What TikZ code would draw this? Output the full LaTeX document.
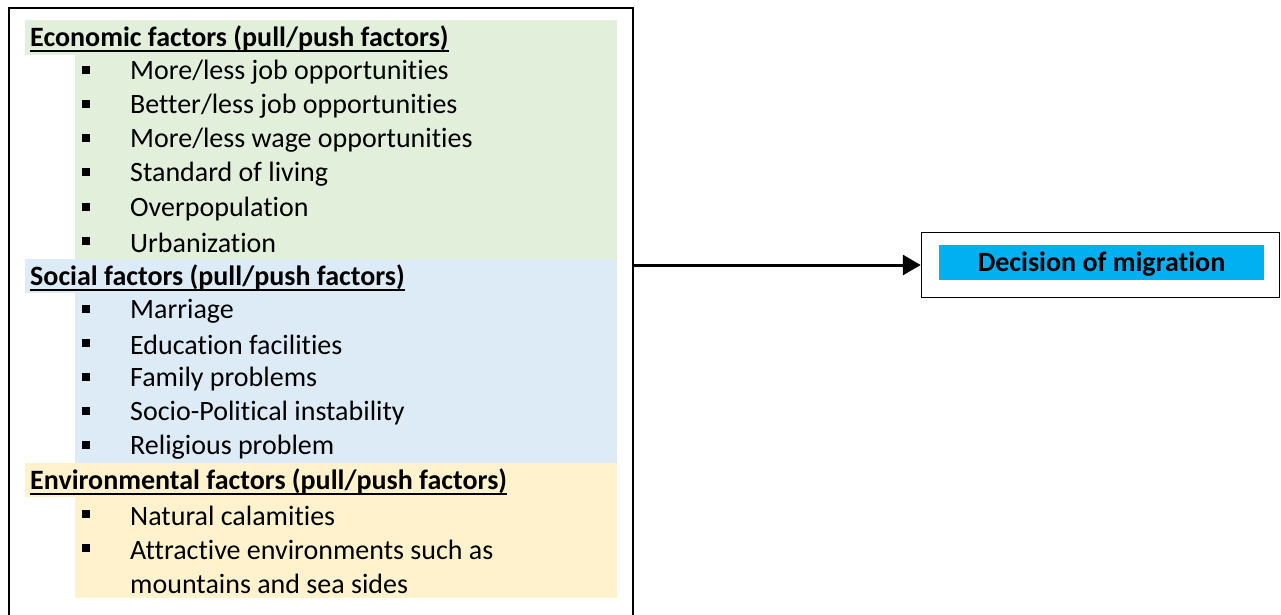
\documentclass[tikz,border=0pt]{standalone}
\usepackage{fontspec}
\setmainfont{Carlito}[Ligatures=NoCommon]
\usetikzlibrary{arrows.meta}
\definecolor{ecogreen}{HTML}{E2EFDA}
\definecolor{socblue}{HTML}{DDEBF7}
\definecolor{envyellow}{HTML}{FFF2CC}
\definecolor{deccyan}{HTML}{00B0F0}
\newcommand\hdul[1]{\setbox0\hbox{#1}\rlap{\rule[-5.5pt]{\wd0}{1.8pt}}\box0}
\tikzset{
  headtxt/.style={anchor=west, inner sep=0pt, font=\fontsize{28}{32}\selectfont\bfseries},
  itemtxt/.style={anchor=west, inner sep=0pt, font=\fontsize{28}{32}\selectfont},
  bul/.style={fill=black, inner sep=0pt, minimum size=8pt, draw=none},
  frame/.style={draw=black, line width=1.5pt, inner sep=0pt},
  conn/.style={line width=3pt, -{Triangle[length=18pt,width=20pt]}},
}
\begin{document}
\begin{tikzpicture}[x=1pt,y=-1pt]
\useasboundingbox (0,0) rectangle (1281,615);
\begin{scope}
\clip (0,0) rectangle (1281,615);
% bands
\fill[ecogreen] (25,20) rectangle (617,55);
\fill[ecogreen] (75,55) rectangle (617,259);
\fill[socblue] (25,259) rectangle (617,293);
\fill[socblue] (75,293) rectangle (617,463);
\fill[envyellow] (25,463) rectangle (617,497);
\fill[envyellow] (75,497) rectangle (617,598);
% outer frame
\node[frame, minimum width=624pt, minimum height=640pt] (outer) at (321,328) {};
\end{scope}
% headers
\node[headtxt] (h1) at (30,38.5) {\hdul{Economic factors (pull/push factors)}};
\node[headtxt] (h2) at (30,277.5) {\hdul{Social factors (pull/push factors)}};
\node[headtxt] (h3) at (30,481.5) {\hdul{Environmental factors (pull/push factors)}};
% items
\foreach \n/\y/\t in {
 e1/72/{More/less job opportunities},
 e2/106/{Better/less job opportunities},
 e3/140/{More/less wage opportunities},
 e4/174/{Standard of living},
 e5/209/{Overpopulation},
 e6/243/{Urbanization},
 s1/311/{Marriage},
 s2/345/{Education facilities},
 s3/379/{Family problems},
 s4/413/{Socio-Political instability},
 s5/447/{Religious problem},
 v1/516/{Natural calamities},
 v2/550/{Attractive environments such as}}{
 \node[bul] (b\n) at (86,\y-2) {};
 \node[itemtxt] (\n) at (130,\y) {\t};
}
\node[itemtxt] (v3) at (130,584) {mountains and sea sides};
% decision
\node[frame, minimum width=358pt, minimum height=65pt] (dec) at (1100.5,265) {};
\node[fill=deccyan, inner sep=0pt, minimum width=325pt, minimum height=35pt,
      font=\fontsize{28}{32}\selectfont\bfseries] (dect) at (1101.5,262.5) {\raisebox{-2pt}[\height][\depth]{Decision of migration}};
\draw[conn] (dec.west -| outer.east) -- (dec.west);
\end{tikzpicture}
\end{document}
